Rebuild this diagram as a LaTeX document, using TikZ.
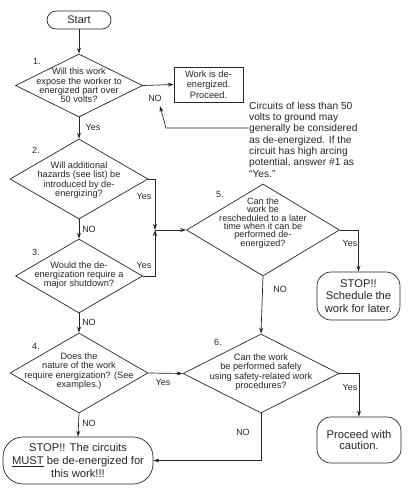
\documentclass[tikz,border=0pt]{standalone}
\usepackage{fontspec}
\setmainfont{Liberation Sans}
\usetikzlibrary{shapes.geometric,arrows.meta}
\begin{document}
\begin{tikzpicture}[x=1pt,y=-1pt,
  every node/.style={text=black!85},
  line/.style={draw=black!85, line width=0.7pt},
  arr/.style={line, -{Stealth[length=6pt,width=4pt]}},
  dia/.style={shape=diamond, draw=black!85, line width=0.7pt, inner sep=0pt},
  qtext/.style={align=center, inner sep=0pt, font=\fontsize{9.2}{9.3}\selectfont},
  lbl/.style={inner sep=0pt, font=\fontsize{9}{10}\selectfont},
  endbox/.style={draw=black!85, line width=0.7pt, align=center, inner sep=0pt},
]
\useasboundingbox (0,0) rectangle (417,488);

% start
\node[endbox, rounded corners=9pt, minimum width=64pt, minimum height=18pt, font=\fontsize{11}{12}\selectfont] (start) at (79,20) {Start};

% diamonds
\node[dia, minimum width=127pt, minimum height=63pt] (d1) at (79,85.5) {};
\node[qtext] (d1t) at (79,85.5) {Will this work\\expose the worker to\\energized part over\\50 volts?};

\node[dia, minimum width=138pt, minimum height=80pt] (d2) at (79,179) {};
\node[qtext] (d2t) at (79,180) {Will additional\\hazards (see list) be\\introduced by de-\\energizing?};

\node[dia, minimum width=127pt, minimum height=74pt] (d3) at (79,276) {};
\node[qtext] (d3t) at (79,275) {Would the de-\\energization require a\\major shutdown?};

\node[dia, minimum width=138pt, minimum height=80pt] (d4) at (79,373) {};
\node[qtext] (d4t) at (79,371) {Does the\\nature of the work\\require energization? (See\\examples.)};

\node[dia, minimum width=153pt, minimum height=92pt] (d5) at (263,230) {};
\node[qtext, font=\fontsize{9.1}{8.2}\selectfont] (d5t) at (263,223.5) {Can the\\work be\\rescheduled to a later\\time when it can be\\performed de-\\energized?};

\node[dia, minimum width=156pt, minimum height=79pt] (d6) at (261,373.5) {};
\node[qtext] (d6t) at (261,372) {Can the work\\be performed safely\\using safety-related work\\procedures?};

% boxes
\node[endbox, minimum width=69pt, minimum height=35pt, font=\fontsize{9.3}{10.3}\selectfont] (done) at (208.5,84.5) {Work is de-\\energized.\\Proceed.};

\node[endbox, rounded corners=20pt, minimum width=150pt, minimum height=47pt, font=\fontsize{11.2}{13.3}\selectfont] (stop1) at (78,460.5) {STOP!! The circuits\\\underline{MUST} be de-energized for\\this work!!!};

\node[endbox, rounded corners=14pt, minimum width=83pt, minimum height=48pt, font=\fontsize{11.2}{12.2}\selectfont] (stop2) at (358.5,296) {STOP!!\\Schedule the\\work for later.};

\node[endbox, rounded corners=14pt, minimum width=84pt, minimum height=46pt, font=\fontsize{11.2}{11.7}\selectfont] (proc) at (359,440) {Proceed with\\caution.};

% note
\node[inner sep=0pt, anchor=west, align=left, font=\fontsize{10.2}{11.3}\selectfont] (note) at (249,139.5) {Circuits of less than 50\\volts to ground may\\generally be considered\\as de-energized. If the\\circuit has high arcing\\potential, answer \#1 as\\``Yes.''};

% step numbers
\node[lbl] (n1) at (37,61) {1.};
\node[lbl] (n2) at (36,150) {2.};
\node[lbl] (n3) at (36,252) {3.};
\node[lbl] (n4) at (36,346) {4.};
\node[lbl] (n5) at (220,194) {5.};
\node[lbl] (n6) at (218,342) {6.};

% coordinates
\coordinate (j) at (155,230);
\coordinate (na) at (248,128);
\coordinate (nb) at (166,128);
\coordinate (ntip) at (160,106);

% connectors
\draw[arr] (start) -- (d1);
\draw[arr] (d1.east) -- (done.west);
\draw[arr] (d1.south) -- (d2.north);
\draw[arr] (d2.south) -- (d3.north);
\draw[arr] (d3.south) -- (d4.north);
\draw[arr] (d4.south) -- (stop1.north);
\draw[arr] (d2.east) -| (j);
\draw[arr] (d3.east) -| (j);
\draw[arr] (j) -- (d5.west);
\draw[arr] (d4.east) -- (d6.west);
\draw[arr] (d5.east) -| (stop2.north);
\draw[arr] (d5.south) -- (d6.north);
\draw[arr] (d6.east) -| (proc.north);
\draw[arr] (d6.south) |- (stop1.east);
\draw[arr] (na) -- (nb) -- (ntip);

% connector labels
\node[lbl] (y1) at (93,127) {Yes};
\node[lbl] (no1) at (155,98) {NO};
\node[lbl] (y2) at (144,196) {Yes};
\node[lbl] (no2) at (89,229) {NO};
\node[lbl] (y3) at (144,265) {Yes};
\node[lbl] (no3) at (89,322) {NO};
\node[lbl] (y4) at (163,382) {Yes};
\node[lbl] (no4) at (89,423) {NO};
\node[lbl] (y5) at (350,243) {Yes};
\node[lbl] (no5) at (280,289) {NO};
\node[lbl] (y6) at (350,387) {Yes};
\node[lbl] (no6) at (243,432) {NO};
\end{tikzpicture}
\end{document}
